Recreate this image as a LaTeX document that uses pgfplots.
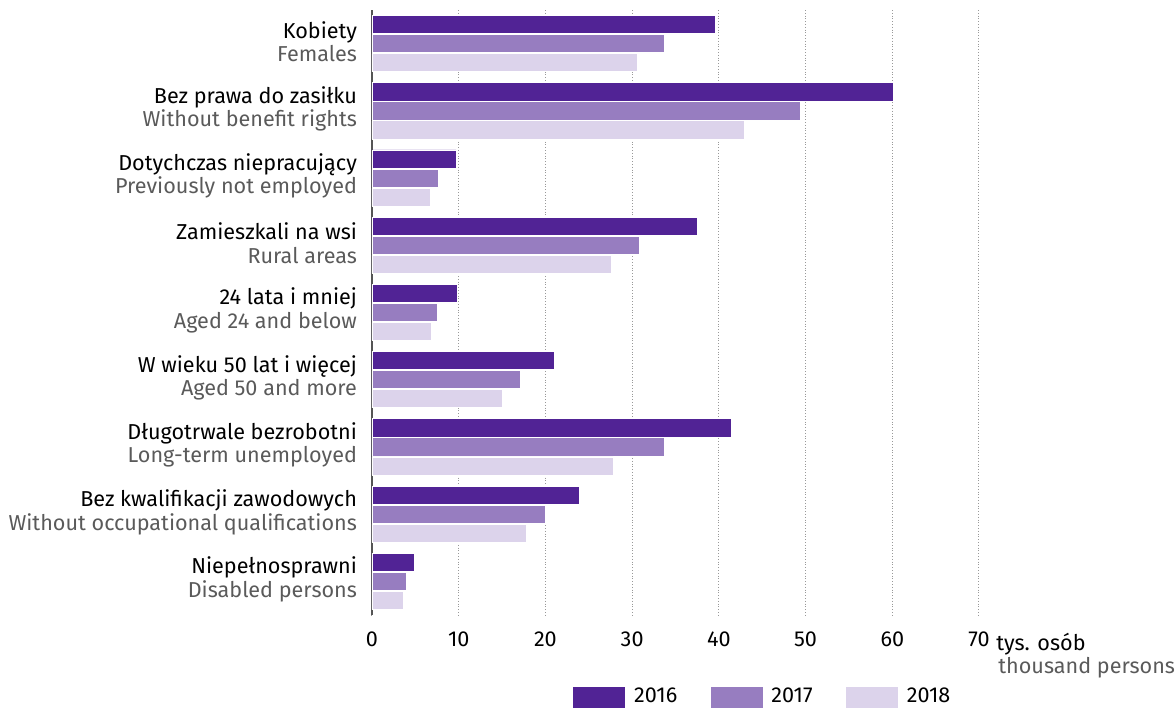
\documentclass[border=0pt]{standalone}
\usepackage{fontspec}
\setmainfont{Fira Sans}
\usepackage{pgfplots}
\pgfplotsset{compat=1.18}
\definecolor{c16}{HTML}{512395}
\definecolor{c17}{HTML}{977DC0}
\definecolor{c18}{HTML}{DCD3EB}
\definecolor{sub}{HTML}{5A5A5A}
\definecolor{axc}{HTML}{555555}
\begin{document}
\begin{tikzpicture}
\begin{axis}[
  name=ax, at={(0,0)}, anchor=south west,
  scale only axis, width=303.5pt, height=302.5pt,
  xmin=0, xmax=70, ymin=-0.5, ymax=8.5, y dir=reverse,
  xbar, bar width=0.27,
  axis y line*=left, axis x line*=bottom,
  x axis line style={draw=none},
  y axis line style={draw=axc, line width=1pt, -},
  major tick length=0pt,
  xtick={0,10,...,70},
  ytick={0,...,8},
  xmajorgrids, grid style={densely dotted, gray!80, line width=0.5pt},
  /pgf/number format/assume math mode=true,
  xticklabel style={font=\fontsize{10.8}{12}\selectfont, yshift=-5pt},
  yticklabel style={align=right, font=\fontsize{10.8}{11.8}\selectfont, xshift=-4pt, yshift=1pt},
  yticklabels={
    {Kobiety\\\textcolor{sub}{Females}},
    {Bez prawa do zasiłku\\\textcolor{sub}{Without benefit rights}},
    {Dotychczas niepracujący\\\textcolor{sub}{Previously not employed}},
    {Zamieszkali na wsi\\\textcolor{sub}{Rural areas}},
    {24 lata i mniej\\\textcolor{sub}{Aged 24 and below}},
    {W wieku 50 lat i więcej\\\textcolor{sub}{Aged 50 and more}},
    {Długotrwale bezrobotni\\\textcolor{sub}{Long-term unemployed}},
    {Bez kwalifikacji zawodowych\\\textcolor{sub}{Without occupational qualifications}},
    {Niepełnosprawni\\\textcolor{sub}{Disabled persons}}
  },
  legend columns=3,
  legend style={draw=none, inner sep=0pt, anchor=west, at={(0.3295,-0.1355)},
    font=\fontsize{10.8}{12}\selectfont,
    /tikz/every even column/.append style={column sep=14.2pt}},
  legend image code/.code={\fill[#1] (0pt,-5.5pt) rectangle (26.5pt,5.5pt); \path (28.5pt,0pt);},
]
\addplot[fill=c16, draw=white, line width=0.4pt, bar shift=-0.283] coordinates {
 (39.6,0) (60.1,1) (9.7,2) (37.5,3) (9.8,4) (21.0,5) (41.4,6) (23.9,7) (4.9,8)};
\addplot[fill=c17, draw=white, line width=0.4pt, bar shift=0] coordinates {
 (33.7,0) (49.4,1) (7.6,2) (30.8,3) (7.5,4) (17.1,5) (33.7,6) (20.0,7) (4.0,8)};
\addplot[fill=c18, draw=white, line width=0.4pt, bar shift=0.283] coordinates {
 (30.6,0) (43.0,1) (6.7,2) (27.6,3) (6.9,4) (15.0,5) (27.8,6) (17.8,7) (3.6,8)};
\legend{2016,2017,2018}
\end{axis}
\node[anchor=base west, inner sep=0pt, font=\fontsize{10.8}{12}\selectfont] at ([xshift=8.5pt,yshift=-17.5pt]ax.south east) {tys. osób};
\node[anchor=base west, inner sep=0pt, font=\fontsize{10.8}{12}\selectfont, text=sub] at ([xshift=9.5pt,yshift=-29pt]ax.south east) {thousand persons};
\pgfresetboundingbox
\path (-186pt,-46.5pt) rectangle (402pt,307.5pt);
\end{tikzpicture}
\end{document}
